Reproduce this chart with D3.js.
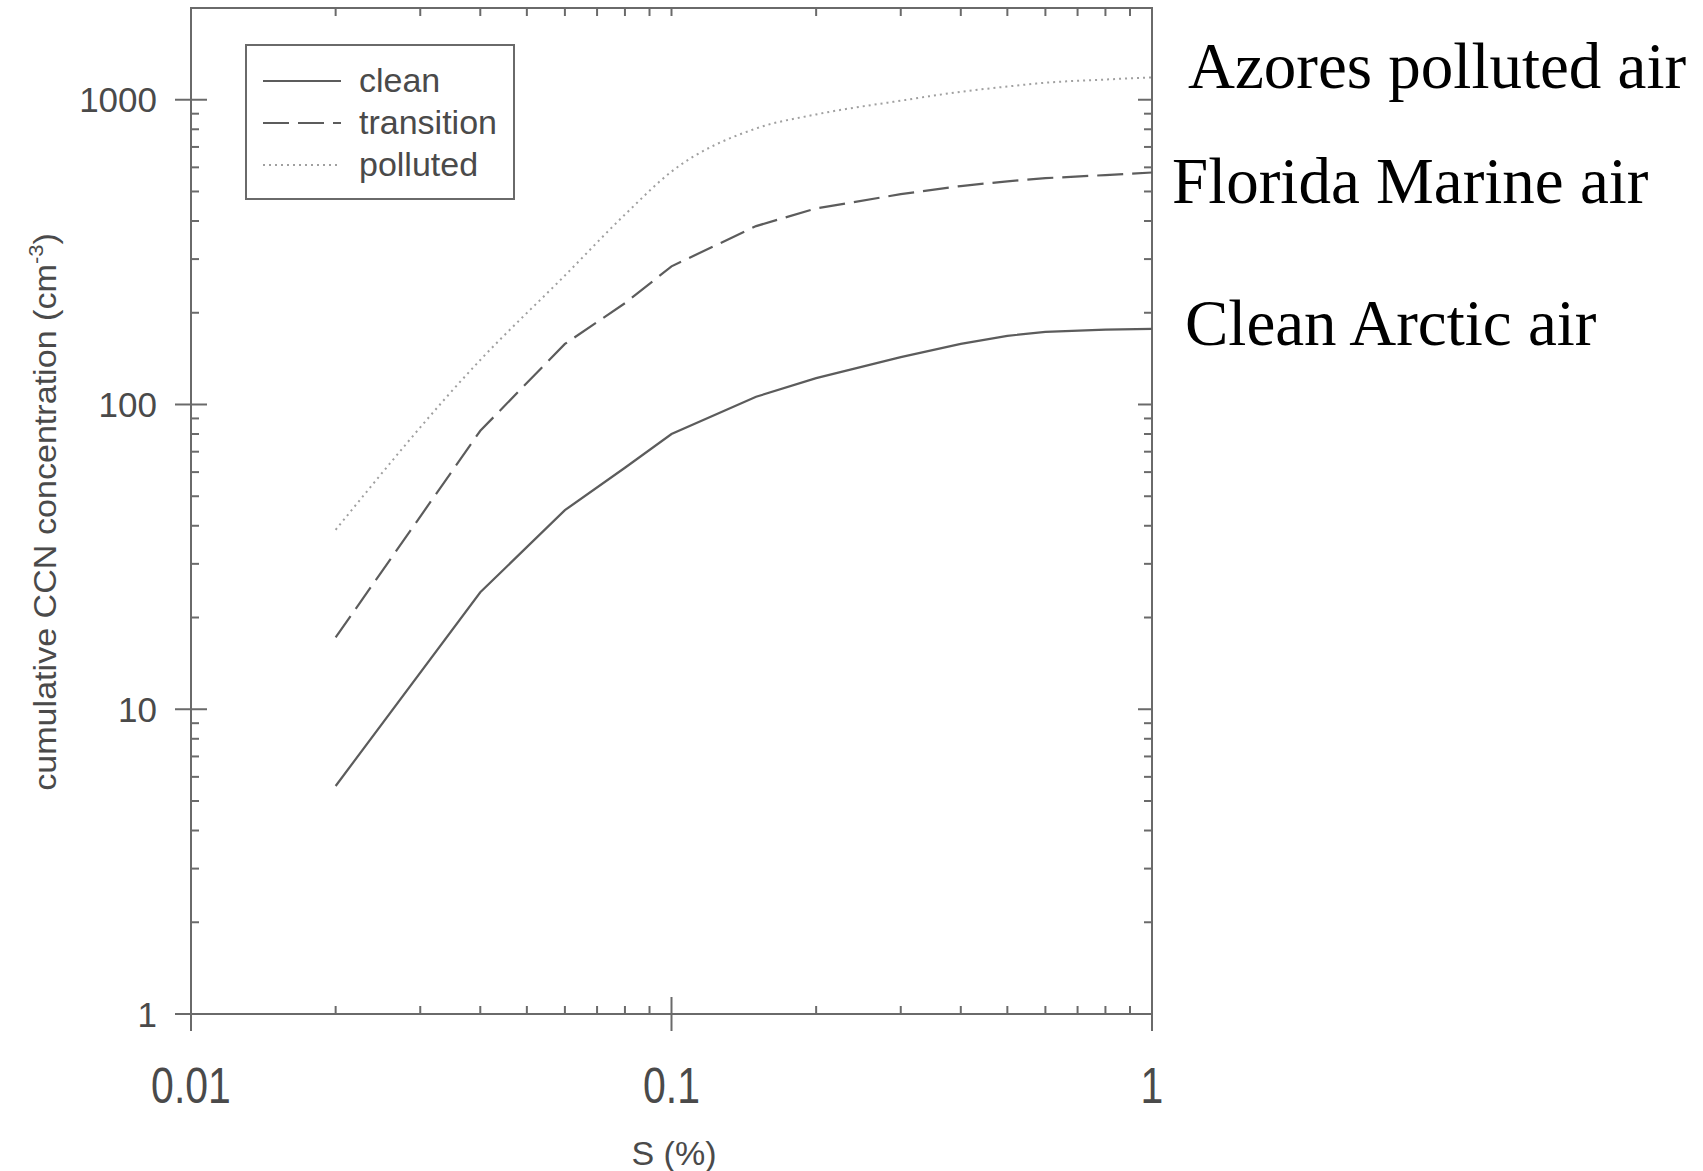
<!DOCTYPE html>
<html>
<head>
<meta charset="utf-8">
<script src="https://cdn.jsdelivr.net/npm/d3@7"></script>
<style>
  body { margin: 0; background: #fff; }
</style>
</head>
<body>
<script>
// supersaturation S (%) and cumulative CCN (cm^-3)
const sValues    = [0.02, 0.04, 0.06, 0.08, 0.1, 0.15, 0.2, 0.3, 0.4, 0.5, 0.6, 0.8, 1.0];
const clean      = [5.6, 24.2, 45, 62, 80, 106, 122, 143, 158, 168, 173, 176, 177];
const transition = [17.2, 82, 158, 215, 284, 385, 440, 490, 521, 540, 553, 566, 577];
const polluted   = [38.8, 140, 265, 420, 581, 805, 895, 993, 1062, 1105, 1137, 1165, 1184];

const seriesNames = ["clean", "transition", "polluted"];
const xTickValues = [0.01, 0.1, 1];
const xTickLabels = ["0.01", "0.1", "1"];
const yTickValues = [1, 10, 100, 1000];
const yTickLabels = ["1", "10", "100", "1000"];
const sideLabels  = ["Azores polluted air", "Florida Marine air", "Clean Arctic air"];

const width = 1703, height = 1171;
const axisColor = "#6a6a6a", textColor = "#4a4a4a";
const sans = "'Liberation Sans', Arial, sans-serif";
const serif = "'Liberation Serif', 'Times New Roman', serif";

const svg = d3.select("body").append("svg")
    .attr("width", width)
    .attr("height", height)
    .style("font-family", sans);

const x = d3.scaleLog().domain([0.01, 1]).range([191, 1152]);
const y = d3.scaleLog().domain([1, 2000]).range([1014, 8]);

const x0 = x.range()[0], x1 = x.range()[1];
const yb = y.range()[0], yt = y.range()[1];

// frame
svg.append("rect")
    .attr("x", x0).attr("y", yt)
    .attr("width", x1 - x0).attr("height", yb - yt)
    .attr("fill", "none")
    .attr("stroke", axisColor)
    .attr("stroke-width", 2);

const ticks = svg.append("g").attr("stroke", axisColor).attr("stroke-width", 2);

// x ticks (bottom crosses for majors, inside for minors; top inside)
x.ticks().forEach(v => {
    const major = xTickValues.some(m => Math.abs(m - v) / m < 1e-6);
    const px = x(v);
    ticks.append("line")
        .attr("x1", px).attr("x2", px)
        .attr("y1", major ? yb + 17 : yb).attr("y2", major ? yb - 17 : yb - 8);
    if (v > 0.01 && v < 1)
        ticks.append("line")
            .attr("x1", px).attr("x2", px)
            .attr("y1", yt).attr("y2", yt + 8);
});

// y ticks (left crosses for majors; right inside)
y.ticks().filter(v => v < 2000).forEach(v => {
    const major = yTickValues.includes(v);
    const py = y(v);
    ticks.append("line")
        .attr("x1", major ? x0 - 16 : x0).attr("x2", major ? x0 + 16 : x0 + 8)
        .attr("y1", py).attr("y2", py);
    if (v > 1)
        ticks.append("line")
            .attr("x1", x1).attr("x2", major ? x1 - 14 : x1 - 8)
            .attr("y1", py).attr("y2", py);
});

// tick labels
svg.append("g").selectAll("text")
    .data(xTickValues)
    .join("text")
    .attr("transform", d => `translate(${x(d)},1103) scale(0.82,1)`)
    .attr("text-anchor", "middle")
    .attr("font-size", 50)
    .attr("fill", textColor)
    .text((d, i) => xTickLabels[i]);

svg.append("g").selectAll("text")
    .data(yTickValues)
    .join("text")
    .attr("x", 157)
    .attr("y", d => y(d))
    .attr("dy", "0.36em")
    .attr("text-anchor", "end")
    .attr("font-size", 35)
    .attr("fill", textColor)
    .text((d, i) => yTickLabels[i]);

// axis titles
svg.append("text")
    .attr("x", 674).attr("y", 1165)
    .attr("text-anchor", "middle")
    .attr("font-size", 34)
    .attr("fill", textColor)
    .text("S (%)");

const yTitle = svg.append("text")
    .attr("transform", "translate(56,512) rotate(-90) scale(1.1,1)")
    .attr("text-anchor", "middle")
    .attr("font-size", 31)
    .attr("fill", textColor);
yTitle.append("tspan").text("cumulative CCN concentration (cm");
yTitle.append("tspan").attr("font-size", 20).attr("dy", -13).text("-3");
yTitle.append("tspan").attr("dy", 13).text(")");

// curves
const series = [clean, transition, polluted];
const styles = [
    { color: "#5c5c5c", dash: null, w: 2.2, curve: d3.curveLinear },
    { color: "#5c5c5c", dash: "26,9", w: 2.2, curve: d3.curveLinear },
    { color: "#a0a0a0", dash: "2,4", w: 2, curve: d3.curveMonotoneX }
];

svg.append("g").selectAll("path")
    .data(series)
    .join("path")
    .attr("d", (vals, i) => d3.line()
        .x(d => x(d[0]))
        .y(d => y(d[1]))
        .curve(styles[i].curve)(sValues.map((s, j) => [s, vals[j]])))
    .attr("fill", "none")
    .attr("stroke", (d, i) => styles[i].color)
    .attr("stroke-width", (d, i) => styles[i].w)
    .attr("stroke-dasharray", (d, i) => styles[i].dash);

// legend
const legend = svg.append("g");
legend.append("rect")
    .attr("x", 246).attr("y", 45)
    .attr("width", 268).attr("height", 154)
    .attr("fill", "#fff")
    .attr("stroke", axisColor)
    .attr("stroke-width", 2);

const rows = legend.selectAll("g.row")
    .data(seriesNames)
    .join("g")
    .attr("class", "row")
    .attr("transform", (d, i) => `translate(0,${81 + i * 42})`);
rows.append("line")
    .attr("x1", 263).attr("x2", 341)
    .attr("stroke", (d, i) => styles[i].color)
    .attr("stroke-width", (d, i) => styles[i].w)
    .attr("stroke-dasharray", (d, i) => styles[i].dash);
rows.append("text")
    .attr("x", 359).attr("y", 11)
    .attr("font-size", 34)
    .attr("fill", textColor)
    .text(d => d);

// side annotations
const sideX = [1188, 1172, 1185];
const sideY = [88, 203, 345];
svg.append("g").selectAll("text")
    .data(sideLabels)
    .join("text")
    .attr("x", (d, i) => sideX[i])
    .attr("y", (d, i) => sideY[i])
    .style("font-family", serif)
    .attr("font-size", 65)
    .attr("fill", "#000")
    .text(d => d);
</script>
</body>
</html>
